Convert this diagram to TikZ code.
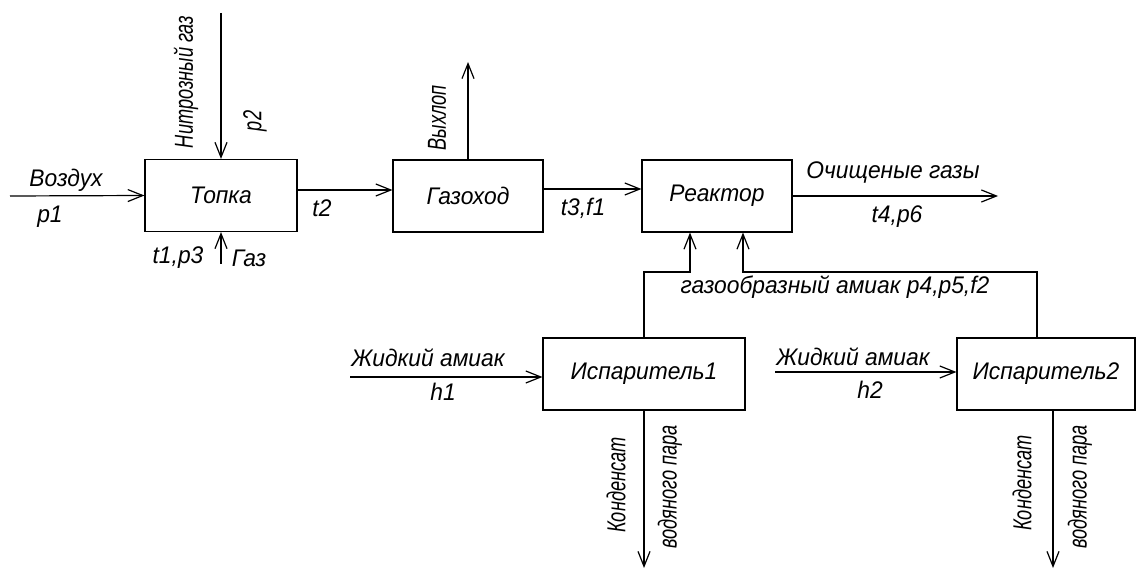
\documentclass[tikz,border=0pt]{standalone}
\usepackage{fontspec}
\newfontfamily\gost{Liberation Sans}[FakeStretch=0.95]
\newfontfamily\gostnarrow{Liberation Sans}[FakeStretch=0.7]
\usetikzlibrary{arrows.meta}
\begin{document}
\begin{tikzpicture}[x=0.5pt,y=-0.5pt,
  line width=0.6pt,
  every node/.style={font=\gost\itshape\fontsize{12}{14}\selectfont, inner sep=0pt},
  upright/.style={rotate=90, font=\gostnarrow\itshape\fontsize{13}{15}\selectfont},
  block/.style={draw, minimum height=36pt},
  flow/.style={-{Straight Barb[length=7.5pt,width=6pt,line width=0.6pt]}}]
\useasboundingbox (0,0) rectangle (1140,571);

% process blocks
\node[block, minimum width=76pt] (topka)   at (221,195.5) {Топка};
\node[block, minimum width=75pt] (duct)    at (468,196)   {Газоход};
\node[block, minimum width=75pt] (reactor) at (717,196)   {Реактор};
\node[block, minimum width=101pt] (evap1)  at (644,374)   {Испаритель1};
\node[block, minimum width=89pt] (evap2)   at (1046,374)  {Испаритель2};

% free ends of the streams
\coordinate (airin)  at (10,196);
\coordinate (nitin)  at (221,13);
\coordinate (gasin)  at (221,264);
\coordinate (exh)    at (468,62);
\coordinate (clean)  at (998,196);
\coordinate (liq1)   at (350,377);
\coordinate (liq2)   at (775,372);
\coordinate (cond1)  at (644,568);
\coordinate (cond2)  at (1053,568);
\coordinate (ra)     at (690,272);
\coordinate (rb)     at (743,272);

% streams of the furnace
\draw[flow] (airin) -- (topka.west);
\draw[flow] (nitin) -- (topka.north);
\draw[flow] (gasin) -- (topka.south);
\draw[flow] (topka.east |- 0,190) -- (duct.west |- 0,190);

% gas duct
\draw[flow] (duct.north) -- (exh);
\draw[flow] (duct.east |- 0,189) -- (reactor.west |- 0,189);

% reactor outlet
\draw[flow] (reactor.east) -- (clean);

% ammonia vapour from the evaporators
\draw[flow] (evap1.north) |- (ra) -- (ra |- reactor.south);
\draw[flow] (evap2.north -| 1037,0) |- (rb) -- (rb |- reactor.south);

% evaporator feeds and condensate
\draw[flow] (liq1) -- (evap1.west |- liq1);
\draw[flow] (liq2) -- (evap2.west |- liq2);
\draw[flow] (evap1.south) -- (cond1);
\draw[flow] (evap2.south -| cond2) -- (cond2);

% labels
\node at (66,180)  {Воздух};
\node at (50,217)  {p1};
\node[upright] at (186,82) {Нитрозный газ};
\node[upright] at (255,121) {p2};
\node at (178,258) {t1,p3};
\node at (249,258) {Газ};
\node at (322,208) {t2};
\node[upright] at (437,118) {Выхлоп};
\node at (583,208) {t3,f1};
\node at (893,173) {Очищеные газы};
\node at (897,217) {t4,p6};
\node at (835,287) {газообразный амиак p4,p5,f2};
\node at (428,358) {Жидкий амиак};
\node at (443,392) {h1};
\node at (853,357) {Жидкий амиак};
\node at (870,390) {h2};
\node[upright] at (616,485) {Конденсат};
\node[upright] at (670,487) {водяного пара};
\node[upright] at (1022,483) {Конденсат};
\node[upright] at (1080,487) {водяного пара};
\end{tikzpicture}
\end{document}
